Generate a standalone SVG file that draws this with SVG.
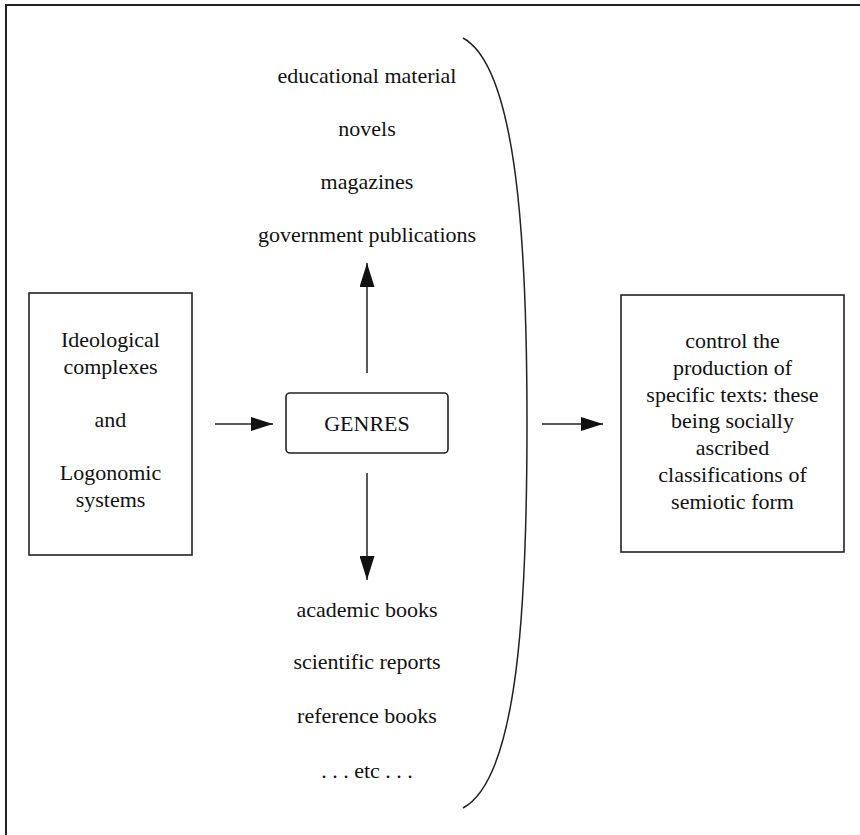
<svg xmlns="http://www.w3.org/2000/svg" width="860" height="835" viewBox="0 0 860 835">
<defs>
<style>
.t{font-family:"Liberation Serif","Times New Roman",serif;font-size:22px;fill:#111;text-anchor:middle}
.box{fill:#fff;stroke:#222;stroke-width:1.6}
.ln{stroke:#222;stroke-width:1.5;fill:none}
</style>
<marker id="ah" viewBox="0 0 22 14" refX="22" refY="7" markerWidth="22" markerHeight="14" markerUnits="userSpaceOnUse" orient="auto">
<path d="M0,0 L22,7 L0,14 Z" fill="#111"/>
</marker>
<marker id="av" viewBox="0 0 24 15" refX="24" refY="7.5" markerWidth="24" markerHeight="15" markerUnits="userSpaceOnUse" orient="auto">
<path d="M0,0 L24,7.5 L0,15 Z" fill="#111"/>
</marker>
</defs>
<rect width="860" height="835" fill="#fff"/>
<g id="frame">
<path d="M6,835 L6,5 L860,5" stroke="#222" stroke-width="2" fill="none"/>
</g>
<g id="bracket">
<path class="ln" d="M463,38 C518,68 527,250 527,423 C527,600 519,778 463,808"/>
</g>
<g id="left-box">
<rect class="box" x="29" y="293" width="163" height="262"/>
<text class="t" x="110.5" y="347">Ideological</text>
<text class="t" x="110.5" y="374">complexes</text>
<text class="t" x="110.5" y="427">and</text>
<text class="t" x="110.5" y="480">Logonomic</text>
<text class="t" x="110.5" y="507">systems</text>
</g>
<g id="genres">
<rect class="box" x="286" y="393" width="162" height="60" rx="4"/>
<text class="t" x="367" y="431">GENRES</text>
</g>
<g id="right-box">
<rect class="box" x="621" y="295" width="223" height="257"/>
<text class="t" x="732.5" y="348">control the</text>
<text class="t" x="732.5" y="375">production of</text>
<text class="t" x="732.5" y="402">specific texts: these</text>
<text class="t" x="732.5" y="428">being socially</text>
<text class="t" x="732.5" y="455">ascribed</text>
<text class="t" x="732.5" y="482">classifications of</text>
<text class="t" x="732.5" y="509">semiotic form</text>
</g>
<g id="top-list">
<text class="t" x="367" y="83">educational material</text>
<text class="t" x="367" y="136">novels</text>
<text class="t" x="367" y="189">magazines</text>
<text class="t" x="367" y="242">government publications</text>
</g>
<g id="bottom-list">
<text class="t" x="367" y="617">academic books</text>
<text class="t" x="367" y="669">scientific reports</text>
<text class="t" x="367" y="723">reference books</text>
<text class="t" x="367" y="778">. . . etc . . .</text>
</g>
<g id="connectors">
<line class="ln" x1="215" y1="424" x2="273" y2="424" marker-end="url(#ah)"/>
<line class="ln" x1="542" y1="424" x2="603" y2="424" marker-end="url(#ah)"/>
<line class="ln" x1="367" y1="373" x2="367" y2="263" marker-end="url(#av)"/>
<line class="ln" x1="367" y1="473" x2="367" y2="580" marker-end="url(#av)"/>
</g>
</svg>
